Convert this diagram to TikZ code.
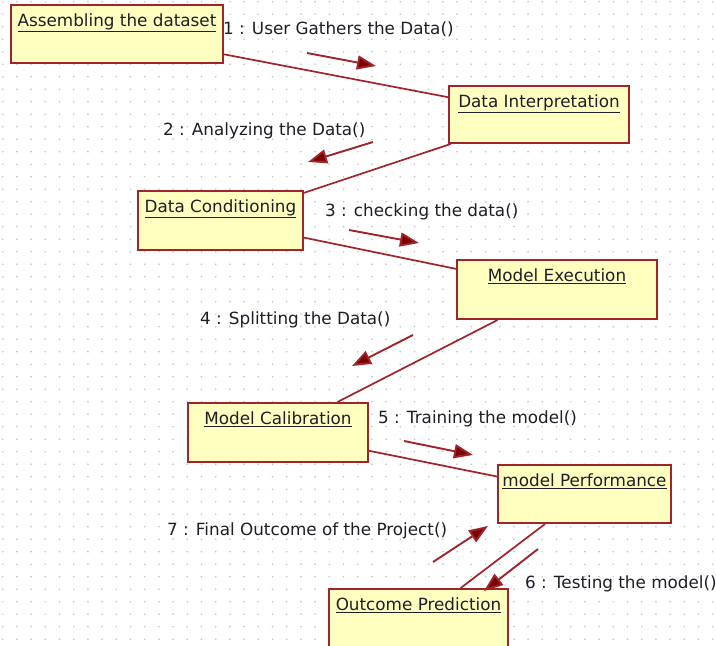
\documentclass[tikz,border=0pt]{standalone}
\usepackage{fontspec}
\setmainfont{DejaVu Sans}
\usepackage{tikz}
\usetikzlibrary{arrows.meta}
\definecolor{umlfill}{RGB}{255,255,192}
\definecolor{umlline}{RGB}{160,36,44}
\definecolor{umltip}{RGB}{125,0,0}
\definecolor{umltext}{RGB}{30,30,40}
\definecolor{griddot}{RGB}{196,196,196}
\newcommand{\objname}[1]{\underline{#1}}

\begin{document}
\begin{tikzpicture}[x=1pt,y=-1pt]
      \tikzstyle{obj}=[draw=umlline,line width=2pt,fill=umlfill,rectangle,
                       anchor=north west,inner sep=0pt]
      \tikzstyle{objlabel}=[anchor=north,yshift=-6pt,text=umltext,
                            font=\fontsize{16.8}{19}\selectfont]
      \tikzstyle{msg}=[anchor=west,text=umltext,inner sep=0pt,
                       font=\fontsize{16.8}{19}\selectfont]
      \tikzstyle{link}=[draw=umlline,line width=1.7pt]
      \tikzstyle{call}=[draw=umlline,line width=1.9pt,
                        -{Triangle[length=19pt,width=14pt,fill=umltip]}]
      \useasboundingbox (0,0) rectangle (716,646);
      \fill[white] (0,0) rectangle (716,646);
      \foreach \i in {0,...,50}
        \foreach \j in {0,...,51}
          \fill[griddot] (2.7+14.2*\i,1.7+12.5*\j) circle (0.9);

      \node (stage1) [obj,minimum width=212pt,minimum height=58pt,
        label={[objlabel]north:\objname{Assembling the dataset}}] at (10,4) {};
      \node (stage2) [obj,minimum width=180pt,minimum height=57pt,
        label={[objlabel]north:\objname{Data Interpretation}}] at (448,85) {};
      \node (stage3) [obj,minimum width=165pt,minimum height=59pt,
        label={[objlabel]north:\objname{Data Conditioning}}] at (137,190) {};
      \node (stage4) [obj,minimum width=200pt,minimum height=59pt,
        label={[objlabel]north:\objname{Model Execution}}] at (456,259) {};
      \node (stage5) [obj,minimum width=180pt,minimum height=59pt,
        label={[objlabel]north:\objname{Model Calibration}}] at (187,402) {};
      \node (stage6) [obj,minimum width=173pt,minimum height=58pt,
        label={[objlabel]north:\objname{model Performance}}] at (497,464) {};
      \node (stage7) [obj,minimum width=179pt,minimum height=62pt,
        label={[objlabel]north:\objname{Outcome Prediction}}] at (328,588) {};

      \draw[link] (stage1) -- (stage2);
      \draw[link] (stage2) -- (stage3);
      \draw[link] (stage3) -- (stage4);
      \draw[link] (stage4) -- (stage5);
      \draw[link] (stage5) -- (stage6);
      \draw[link] (stage6) -- (stage7);

      \coordinate (m1a) at (307,53);  \coordinate (m1b) at (376,66);
      \coordinate (m2a) at (373,142); \coordinate (m2b) at (308,162);
      \coordinate (m3a) at (349,230); \coordinate (m3b) at (419,243);
      \coordinate (m4a) at (413,335); \coordinate (m4b) at (352,366);
      \coordinate (m5a) at (404,441); \coordinate (m5b) at (473,455);
      \coordinate (m6a) at (538,549); \coordinate (m6b) at (484,591);
      \coordinate (m7a) at (433,562); \coordinate (m7b) at (488,526);
      \draw[call] (m1a) -- (m1b);
      \draw[call] (m2a) -- (m2b);
      \draw[call] (m3a) -- (m3b);
      \draw[call] (m4a) -- (m4b);
      \draw[call] (m5a) -- (m5b);
      \draw[call] (m6a) -- (m6b);
      \draw[call] (m7a) -- (m7b);

      \node (msg1) [msg] at (223,29) {1 : User Gathers the Data()};
      \node (msg2) [msg] at (163,131) {2 : Analyzing the Data()};
      \node (msg3) [msg] at (325,212) {3 : checking the data()};
      \node (msg4) [msg] at (200,320) {4 : Splitting the Data()};
      \node (msg5) [msg] at (378,419) {5 : Training the model()};
      \node (msg6) [msg] at (525,584) {6 : Testing the model()};
      \node (msg7) [msg] at (167,531) {7 : Final Outcome of the Project()};
  \end{tikzpicture}
\end{document}
